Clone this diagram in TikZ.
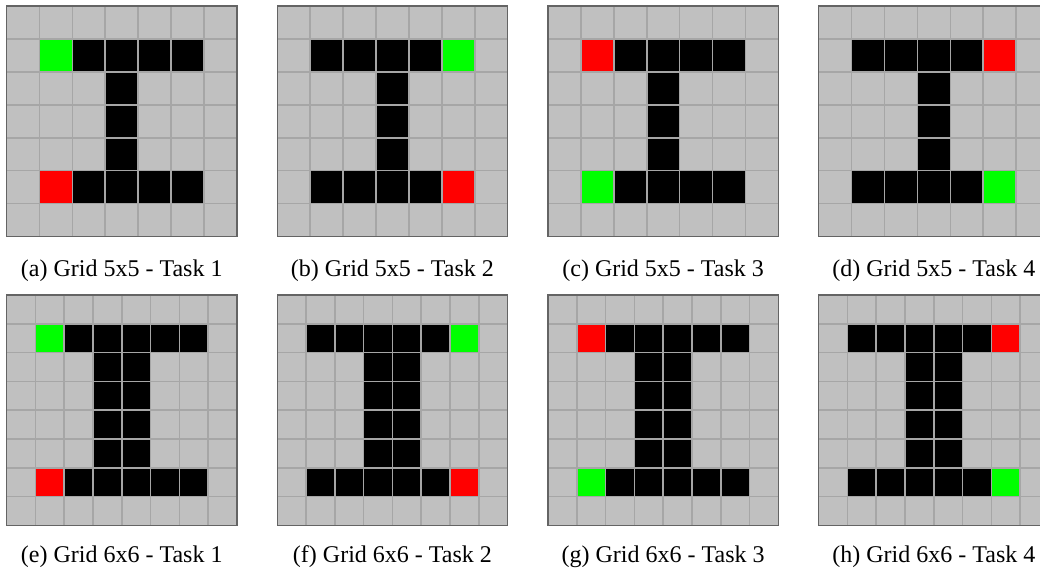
\documentclass[tikz,border=0pt]{standalone}
\usepackage{fontspec}
\setmainfont{Liberation Serif}
\usepackage{xcolor}
\usepackage{tikz}

\definecolor{cellgray}{RGB}{192,192,192}
\definecolor{linegray}{RGB}{166,166,166}
\definecolor{framegray}{RGB}{100,100,100}
\definecolor{startgreen}{RGB}{0,255,0}
\definecolor{goalred}{RGB}{255,0,0}

\begin{document}
\begin{tikzpicture}[
  x=1pt, y=1pt,
  panel/.style={fill=cellgray},
  wall/.style={fill=black},
  gridln/.style={draw=linegray, line width=1.6pt},
  frame/.style={draw=framegray, line width=1.4pt},
  caption/.style={font=\fontsize{24}{28}\selectfont, anchor=center}
]
  \useasboundingbox (0,0) rectangle (1040,575);

  % top row: 5x5 tasks
  \foreach \i/\lab/\task/\col/\up/\dn in {0/a/1/1/startgreen/goalred,
      1/b/2/5/startgreen/goalred, 2/c/3/1/goalred/startgreen,
      3/d/4/5/goalred/startgreen} {
    \pgfmathsetmacro{\px}{6.5+\i*270.7}
    \begin{scope}[shift={(\px pt,569pt)}, x=32.93pt, y=-32.93pt]
      \fill[panel] (0,0) rectangle (7,7);
      \fill[wall] (1,1) rectangle (6,2);
      \fill[wall] (3,2) rectangle (4,5);
      \fill[wall] (1,5) rectangle (6,6);
      \fill[\up] (\col,1) rectangle ++(1,1);
      \fill[\dn] (\col,5) rectangle ++(1,1);
      \foreach \k in {1,...,6} {
        \draw[gridln] (\k,0) -- (\k,7);
        \draw[gridln] (0,\k) -- (7,\k);
      }
      \draw[frame] (0,0) rectangle (7,7);
    \end{scope}
    \node[caption] (cap\lab) at (\px+115.25, 304) {(\lab) Grid 5x5 - Task \task};
  }

  % bottom row: 6x6 tasks
  \foreach \i/\lab/\task/\col/\up/\dn in {0/e/1/1/startgreen/goalred,
      1/f/2/6/startgreen/goalred, 2/g/3/1/goalred/startgreen,
      3/h/4/6/goalred/startgreen} {
    \pgfmathsetmacro{\px}{6.5+\i*270.7}
    \begin{scope}[shift={(\px pt,280pt)}, x=28.81pt, y=-28.81pt]
      \fill[panel] (0,0) rectangle (8,8);
      \fill[wall] (1,1) rectangle (7,2);
      \fill[wall] (3,2) rectangle (5,6);
      \fill[wall] (1,6) rectangle (7,7);
      \fill[\up] (\col,1) rectangle ++(1,1);
      \fill[\dn] (\col,6) rectangle ++(1,1);
      \foreach \k in {1,...,7} {
        \draw[gridln] (\k,0) -- (\k,8);
        \draw[gridln] (0,\k) -- (8,\k);
      }
      \draw[frame] (0,0) rectangle (8,8);
    \end{scope}
    \node[caption] (cap\lab) at (\px+115.25, 18) {(\lab) Grid 6x6 - Task \task};
  }
\end{tikzpicture}
\end{document}
